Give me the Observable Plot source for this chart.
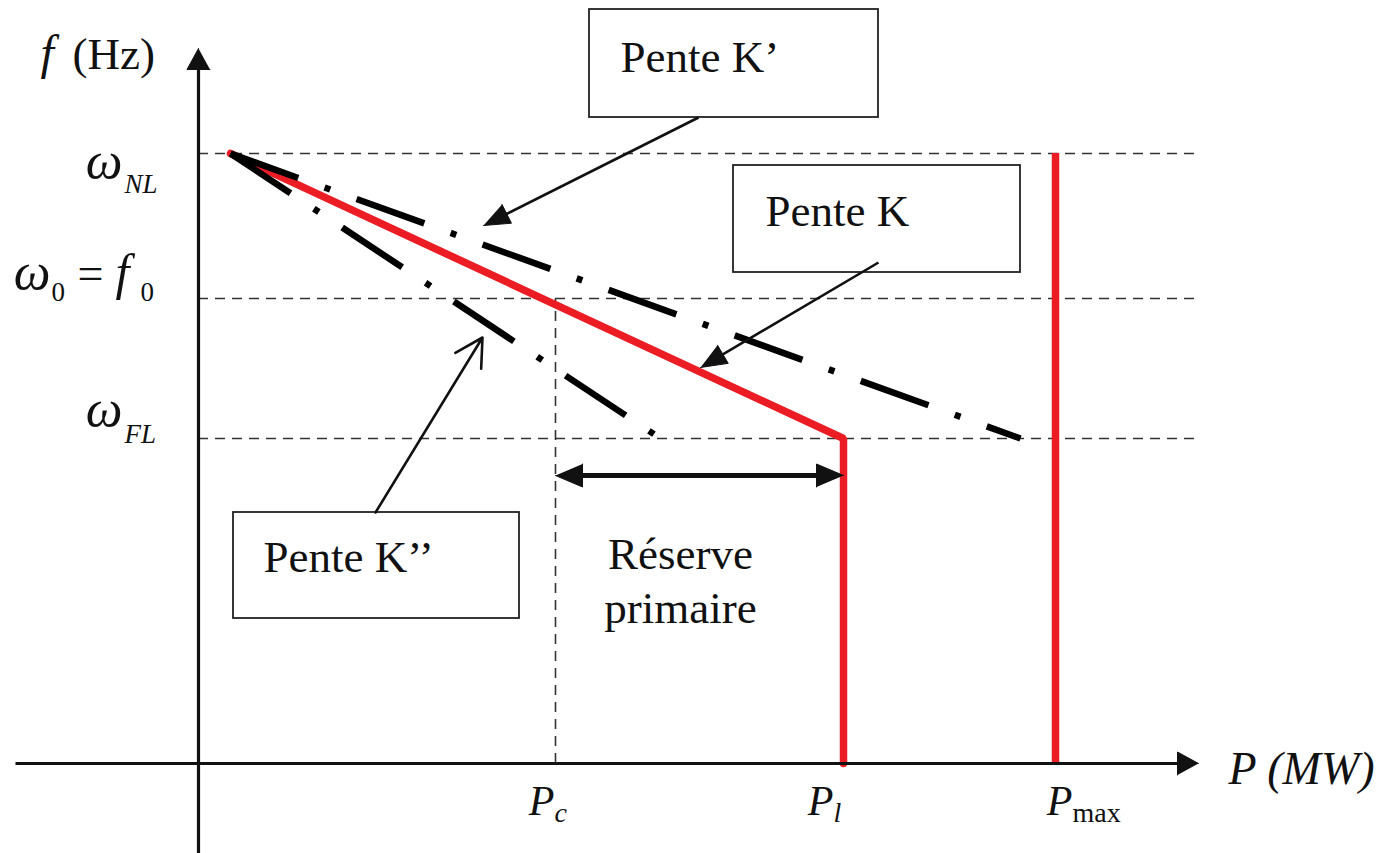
<!DOCTYPE html>
<html><head><meta charset="utf-8">
<script src="https://cdn.jsdelivr.net/npm/d3@7"></script>
<script src="https://cdn.jsdelivr.net/npm/@observablehq/plot@0.6"></script>
<style>body{margin:0;background:#fff;} svg{display:block}</style>
</head><body><div id="chart"></div>
<script>
// ---- Data (schematic units) ----
const freqSymbols = ["ω", "ω", "ω"];
const freqSubs = ["NL", "0", "FL"];
const freqValues = [6.10, 4.65, 3.25];           // ωNL, ω0 = f0, ωFL
const powerSubs = ["c", "l", "max"];
const powerValues = [3.57, 6.45, 8.57];          // Pc, Pl, Pmax
const droopStartP = 0.32;                        // characteristics start at (droopStartP, ωNL)
const slopeNames = ["Pente K", "Pente K’", "Pente K’’"];
const slopeEndP = [6.45, 8.22, 4.62];            // P where each slope reaches ωFL
const reserveText = ["Réserve", "primaire"];
const axisTitles = ["f", "(Hz)", "P (MW)"];

// ---- Layout ----
const W = 1384, H = 853;
const xDomain = [-1.98, 11.86], yDomain = [-0.9, 7.63];
const k = W / (xDomain[1] - xDomain[0]);        // px per unit (same for y)
const [wNL, w0, wFL] = freqValues;
const [Pc, Pl, Pmax] = powerValues;
const xAxisExt = [-1.83, 10.0], yAxisExt = [-0.9, 7.15];
const dashEnd = 9.97;
const serif = "Liberation Serif, Times New Roman, serif";
const red = "#ec1c24";

function head(tx, ty, fx, fy, len, wid, id) {
  const dx = tx - fx, dy = ty - fy, L = Math.hypot(dx, dy);
  const ux = dx / L, uy = dy / L;
  const bx = tx - ux * len / k, by = ty - uy * len / k;
  const px = -uy * wid / 2 / k, py = ux * wid / 2 / k;
  return {pts: [{x: tx, y: ty, id}, {x: bx + px, y: by + py, id}, {x: bx - px, y: by - py, id}],
          base: {x: tx - ux * (len - 4) / k, y: ty - uy * (len - 4) / k}};
}

// leader arrows (box -> slope), and the arrows' heads
const leaders = [
  {from: [5.00, 6.46], to: [2.85, 5.38], filled: true},   // K'
  {from: [6.80, 5.01], to: [5.02, 3.96], filled: true},   // K
  {from: [1.77, 2.51], to: [2.84, 4.26], filled: false}   // K''
];
const heads = [];
const shafts = [];
leaders.forEach((a, i) => {
  if (a.filled) {
    const h = head(a.to[0], a.to[1], a.from[0], a.from[1], 26, 21, "l" + i);
    heads.push(...h.pts);
    shafts.push({x1: a.from[0], y1: a.from[1], x2: h.base.x, y2: h.base.y});
  }
});
// axes
const yh = head(0, yAxisExt[1], 0, 0, 21, 23, "ya");
const xh = head(xAxisExt[1], 0, 0, 0, 21, 23, "xa");
heads.push(...yh.pts, ...xh.pts);
const axes = [
  {x1: 0, y1: yAxisExt[0], x2: yh.base.x, y2: yh.base.y},
  {x1: xAxisExt[0], y1: 0, x2: xh.base.x, y2: xh.base.y}
];
// reserve double arrow
const resY = 2.88;
const r1 = head(Pc, resY, Pl, resY, 27, 23, "r1");
const r2 = head(Pl, resY, Pc, resY, 27, 23, "r2");
heads.push(...r1.pts, ...r2.pts);

const boxes = [
  {x1: 5.35, x2: 8.22, y1: 4.91, y2: 5.98, tx: 5.67, ty: 5.38, t: slopeNames[0]},
  {x1: 3.91, x2: 6.80, y1: 6.46, y2: 7.54, tx: 4.22, ty: 6.92, t: slopeNames[1]},
  {x1: 0.35, x2: 3.21, y1: 1.45, y2: 2.51, tx: 0.65, ty: 1.92, t: slopeNames[2]}
];

const yLabelPieces = [
  {y: wNL, t: freqSymbols[0], a: "end", dx: -76, dy: 24, s: 52, it: true},
  {y: wNL, t: freqSubs[0], a: "start", dx: -74, dy: 39, s: 27, it: true},
  {y: w0, t: freqSymbols[1], a: "end", dx: -148, dy: -10, s: 52, it: true},
  {y: w0, t: freqSubs[1], a: "start", dx: -147, dy: 2, s: 27, it: false},
  {y: w0, t: "=", a: "start", dx: -121, dy: -10, s: 46, it: false},
  {y: w0, t: "f", a: "start", dx: -83, dy: -10, s: 50, it: true},
  {y: w0, t: freqSubs[1], a: "start", dx: -58, dy: 2, s: 27, it: false},
  {y: wFL, t: freqSymbols[2], a: "end", dx: -76, dy: -13, s: 52, it: true},
  {y: wFL, t: freqSubs[2], a: "start", dx: -74, dy: 4, s: 27, it: true}
];
const xLabelPieces = [
  {x: Pc, t: "P", a: "end", dx: -1, dy: 51, s: 42, it: true},
  {x: Pc, t: powerSubs[0], a: "start", dx: -1, dy: 58, s: 28, it: true},
  {x: Pl, t: "P", a: "end", dx: -10, dy: 51, s: 42, it: true},
  {x: Pl, t: powerSubs[1], a: "start", dx: -10, dy: 58, s: 28, it: true},
  {x: Pmax, t: "P", a: "end", dx: 17, dy: 51, s: 42, it: true},
  {x: Pmax, t: powerSubs[2], a: "start", dx: 17, dy: 58, s: 28, it: false}
];

const txt = (p, o) => Plot.text([p], Object.assign({
  text: "t", textAnchor: p.a, lineAnchor: "bottom", fontFamily: serif, fill: "#111",
  dx: p.dx, dy: p.dy, fontSize: p.s, fontStyle: p.it ? "italic" : "normal"
}, o));

const plot = Plot.plot({
  width: W, height: H, margin: 0,
  x: {domain: xDomain, axis: null},
  y: {domain: yDomain, axis: null},
  style: {background: "#fff"},
  marks: [
    // boxes
    Plot.rect(boxes, {x1: "x1", x2: "x2", y1: "y1", y2: "y2", fill: "#fff", stroke: "#222", strokeWidth: 1.8}),
    // dashed reference lines
    Plot.ruleY(freqValues, {y: d => d, x1: () => 0, x2: () => dashEnd, stroke: "#333", strokeWidth: 1.6, strokeDasharray: "10 7"}),
    Plot.ruleX([Pc], {x: d => d, y1: () => 0, y2: () => w0, stroke: "#333", strokeWidth: 1.6, strokeDasharray: "10 7"}),
    // red characteristic K and Pmax limit
    Plot.line([{P: droopStartP, f: wNL}, {P: slopeEndP[0], f: wFL}, {P: Pl, f: 0}],
      {x: "P", y: "f", stroke: red, strokeWidth: 7.5, strokeLinejoin: "miter"}),
    Plot.ruleX([Pmax], {x: d => d, y1: () => 0, y2: () => wNL, stroke: red, strokeWidth: 7.5}),
    // dash-dot characteristics K' and K''
    Plot.link([slopeEndP[1], slopeEndP[2]], {x1: () => droopStartP, y1: () => wNL, x2: d => d, y2: () => wFL,
      stroke: "#000", strokeWidth: 6.5, strokeDasharray: "72 28 6 28", strokeLinecap: "butt"}),
    // axes
    Plot.link(axes, {x1: "x1", y1: "y1", x2: "x2", y2: "y2", stroke: "#111", strokeWidth: 3.2}),
    // leaders
    Plot.link(shafts, {x1: "x1", y1: "y1", x2: "x2", y2: "y2", stroke: "#111", strokeWidth: 2.6}),
    Plot.arrow([leaders[2]], {x1: d => d.from[0], y1: d => d.from[1], x2: d => d.to[0], y2: d => d.to[1],
      stroke: "#111", strokeWidth: 2.6, headLength: 18, headAngle: 58}),
    // reserve arrow
    Plot.link([{}], {x1: () => r2.base.x, y1: () => resY, x2: () => r1.base.x, y2: () => resY, stroke: "#111", strokeWidth: 5}),
    // filled arrow heads
    Plot.line(heads, {x: "x", y: "y", z: "id", fill: "#111", stroke: "#111", strokeWidth: 1, strokeLinejoin: "miter"}),
    // texts
    Plot.text(boxes, {x: "tx", y: "ty", text: "t", textAnchor: "start", lineAnchor: "bottom",
      fontFamily: serif, fontSize: 45, fill: "#111"}),
    Plot.text(reserveText, {x: () => (Pc + Pl) / 2 - 0.19, y: (d, i) => i === 0 ? 1.95 : 1.41, text: d => d,
      textAnchor: "middle", lineAnchor: "bottom", fontFamily: serif, fontSize: 45, fill: "#111"}),
    ...yLabelPieces.map(p => txt(p, {x: () => 0, y: "y"})),
    ...xLabelPieces.map(p => txt(p, {x: "x", y: () => 0})),
    txt({t: axisTitles[0], a: "start", dx: -158, dy: 20, s: 48, it: true}, {x: () => 0, y: () => yAxisExt[1]}),
    txt({t: axisTitles[1], a: "start", dx: -126, dy: 20, s: 45, it: false}, {x: () => 0, y: () => yAxisExt[1]}),
    txt({t: axisTitles[2], a: "start", dx: 30, dy: 20, s: 46, it: true}, {x: () => xAxisExt[1], y: () => 0})
  ]
});
document.getElementById("chart").appendChild(plot);
</script>
</body></html>
